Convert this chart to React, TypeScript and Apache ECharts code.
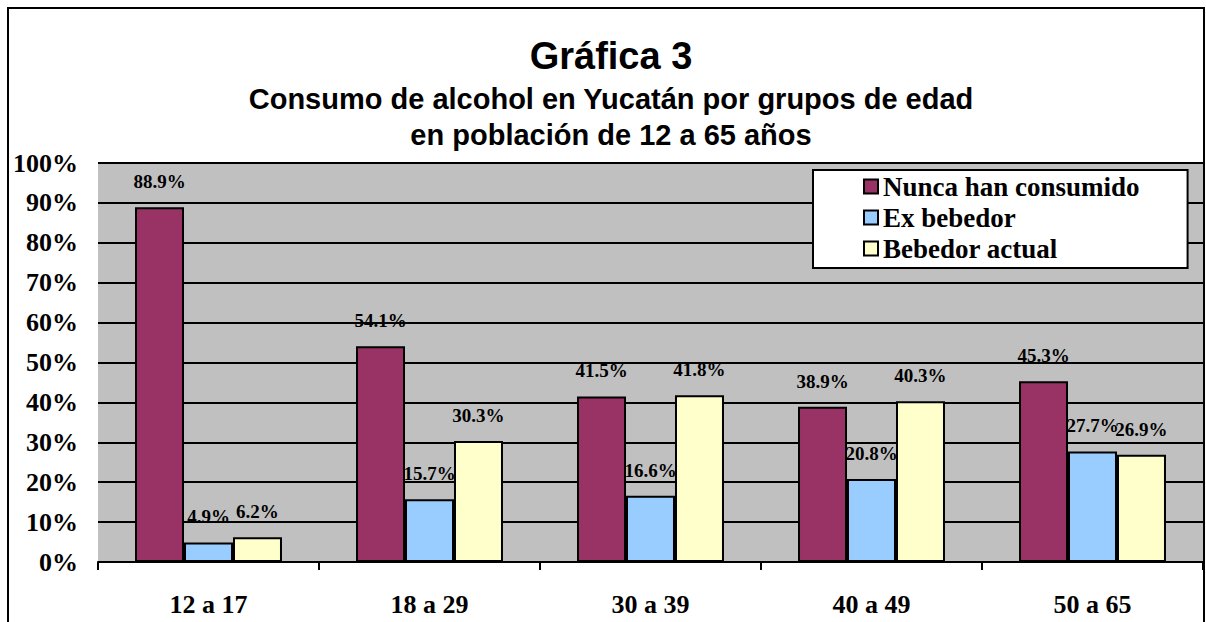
import React, { useEffect, useRef } from "react";
import * as echarts from "echarts";

const categories = ["12 a 17", "18 a 29", "30 a 39", "40 a 49", "50 a 65"];
const nuncaHanConsumido = [88.9, 54.1, 41.5, 38.9, 45.3];
const exBebedor = [4.9, 15.7, 16.6, 20.8, 27.7];
const bebedorActual = [6.2, 30.3, 41.8, 40.3, 26.9];
const seriesNames = ["Nunca han consumido", "Ex bebedor", "Bebedor actual"];
const colors = ["#993366", "#99CCFF", "#FFFFCC"];

const serif = "'Liberation Serif', 'Times New Roman', serif";
const sans = "'Liberation Sans', Arial, sans-serif";

export default function App() {
  const ref = useRef<HTMLDivElement>(null);
  useEffect(() => {
    if (!ref.current) return;
    const chart = echarts.init(ref.current, null, { renderer: "svg" });
    const mk = (name: string, data: number[], color: string) => ({
      name,
      type: "bar",
      data,
      barGap: "0%",
      barCategoryGap: "33.5%",
      itemStyle: { color, borderColor: "#000", borderWidth: 2 },
      label: {
        show: true,
        position: "top",
        distance: 16,
        formatter: (p: any) => p.value.toFixed(1) + "%",
        fontFamily: serif,
        fontWeight: "bold",
        fontSize: 19,
        color: "#000",
      },
    });
    chart.setOption({
      animation: false,
      backgroundColor: "#fff",
      graphic: [
        {
          type: "rect",
          shape: { x: 8, y: 8, width: 1196, height: 700 },
          style: { fill: "none", stroke: "#000", lineWidth: 2 },
          z: 100,
          silent: true,
        },
      ],
      title: {
        text: "Gráfica 3",
        subtext: "Consumo de alcohol en Yucatán por grupos de edad\nen población de 12 a 65 años",
        left: 606,
        textAlign: "center",
        top: 32,
        itemGap: 6,
        textStyle: { fontFamily: sans, fontWeight: "bold", fontSize: 38, color: "#000" },
        subtextStyle: {
          fontFamily: sans,
          fontWeight: "bold",
          fontSize: 29,
          lineHeight: 36,
          color: "#000",
        },
      },
      legend: {
        orient: "vertical",
        left: 813,
        top: 170,
        padding: [3, 48, 6, 50],
        itemGap: 4,
        itemWidth: 14,
        itemHeight: 14,
        icon: "rect",
        backgroundColor: "#fff",
        borderColor: "#000",
        borderWidth: 2,
        borderRadius: 0,
        itemStyle: { borderColor: "#000", borderWidth: 2 },
        textStyle: { fontFamily: serif, fontWeight: "bold", fontSize: 27, color: "#000" },
        data: seriesNames,
      },
      grid: {
        left: 98,
        right: 3,
        top: 163,
        bottom: 60,
        show: true,
        backgroundColor: "#C0C0C0",
        borderWidth: 0,
      },
      xAxis: {
        type: "category",
        data: categories,
        boundaryGap: true,
        axisLine: { show: true, lineStyle: { color: "#000", width: 2 } },
        axisTick: { show: true, length: 8, lineStyle: { color: "#000", width: 2 } },
        axisLabel: {
          margin: 29,
          fontFamily: serif,
          fontWeight: "bold",
          fontSize: 26,
          color: "#000",
        },
      },
      yAxis: {
        type: "value",
        min: 0,
        max: 100,
        interval: 10,
        axisLine: { show: false },
        axisTick: { show: false },
        splitLine: { show: true, lineStyle: { color: "#000", width: 2 } },
        axisLabel: {
          margin: 20,
          formatter: "{value}%",
          fontFamily: serif,
          fontWeight: "bold",
          fontSize: 26,
          color: "#000",
        },
      },
      series: [
        mk(seriesNames[0], nuncaHanConsumido, colors[0]),
        mk(seriesNames[1], exBebedor, colors[1]),
        mk(seriesNames[2], bebedorActual, colors[2]),
      ],
    });
    return () => chart.dispose();
  }, []);
  return (
    <div
      ref={ref}
      style={{ position: "absolute", left: 0, top: 0, width: 1206, height: 622 }}
    />
  );
}
